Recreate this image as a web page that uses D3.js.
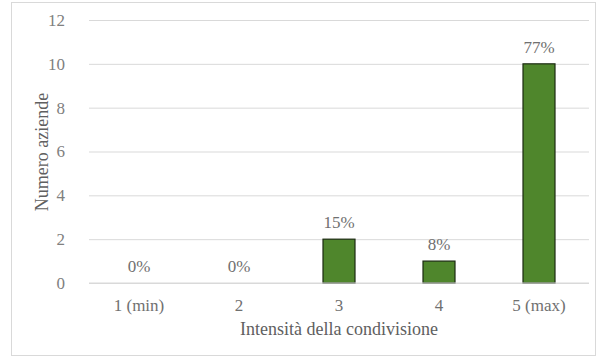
<!DOCTYPE html>
<html>
<head>
<meta charset="utf-8">
<script src="https://cdn.jsdelivr.net/npm/d3@7"></script>
<style>
  body { margin: 0; background: #fff; }
</style>
</head>
<body>
<div id="chart"></div>
<script>
var categories = ["1 (min)", "2", "3", "4", "5 (max)"];
var counts = [0, 0, 2, 1, 10];
var percentLabels = ["0%", "0%", "15%", "8%", "77%"];
var yTicks = [0, 2, 4, 6, 8, 10, 12];

var FONT = "'Liberation Serif', serif";
var width = 605, height = 357;
var margin = {top: 20, right: 16, bottom: 74, left: 89};
var graphWidth = 589 - margin.left;
var graphHeight = 283 - margin.top;

var svg = d3.select("#chart")
  .append("svg")
  .attr("width", width)
  .attr("height", height);

// outer frame
svg.append("rect")
  .attr("x", 11.5)
  .attr("y", 2.5)
  .attr("width", 584)
  .attr("height", 353)
  .attr("fill", "#fff")
  .attr("stroke", "#d9d9d9");

var g = svg.append("g")
  .attr("transform", "translate(" + margin.left + "," + margin.top + ")");

var x = d3.scaleBand()
  .domain(categories)
  .range([0, graphWidth])
  .paddingInner(0.68)
  .paddingOuter(0.34);

var y = d3.scaleLinear()
  .domain([0, 12])
  .range([graphHeight, 0]);

// gridlines + y labels
g.append("g")
  .attr("class", "y axis")
  .call(d3.axisLeft(y)
    .tickValues(yTicks)
    .tickSizeInner(-graphWidth)
    .tickSizeOuter(0)
    .tickPadding(24))
  .call(function(a) {
    a.attr("font-family", null);
    a.select(".domain").remove();
    a.selectAll("line").attr("stroke", "#d9d9d9");
    a.selectAll("text")
      .attr("fill", "#808080")
      .style("font-size", "17px")
      .style("font-family", FONT);
  });

// bars
g.selectAll(".bar")
  .data(counts)
  .enter()
  .append("rect")
  .attr("class", "bar")
  .attr("x", function(d, i) { return x(categories[i]); })
  .attr("width", x.bandwidth())
  .attr("y", function(d) { return y(d); })
  .attr("height", function(d) { return graphHeight - y(d); })
  .attr("fill", "#4f862c")
  .attr("stroke", "#1c2b12")
  .attr("stroke-width", 1.2);

// x axis line
g.append("line")
  .attr("x1", 0).attr("x2", graphWidth)
  .attr("y1", graphHeight).attr("y2", graphHeight)
  .attr("stroke", "#d9d9d9");

// data labels
g.selectAll(".pct")
  .data(percentLabels)
  .enter()
  .append("text")
  .attr("class", "pct")
  .attr("x", function(d, i) { return x(categories[i]) + x.bandwidth() / 2; })
  .attr("y", function(d, i) { return y(counts[i]) - 11; })
  .attr("text-anchor", "middle")
  .attr("fill", "#707070")
  .style("font-family", FONT)
  .style("font-size", "17px")
  .text(function(d) { return d; });

// category labels
g.selectAll(".cat")
  .data(categories)
  .enter()
  .append("text")
  .attr("class", "cat")
  .attr("x", function(d) { return x(d) + x.bandwidth() / 2; })
  .attr("y", graphHeight + 28)
  .attr("text-anchor", "middle")
  .attr("fill", "#707070")
  .style("font-family", FONT)
  .style("font-size", "17px")
  .text(function(d) { return d; });

// axis titles
g.append("text")
  .attr("x", graphWidth / 2)
  .attr("y", graphHeight + 52)
  .attr("text-anchor", "middle")
  .attr("fill", "#606060")
  .style("font-family", FONT)
  .style("font-size", "18px")
  .text("Intensità della condivisione");

svg.append("text")
  .attr("transform", "translate(48," + 152 + ")rotate(-90)")
  .attr("text-anchor", "middle")
  .attr("fill", "#606060")
  .style("font-family", FONT)
  .style("font-size", "18px")
  .text("Numero aziende");
</script>
</body>
</html>
